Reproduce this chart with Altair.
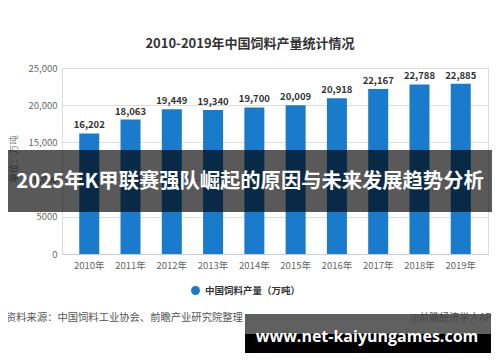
import altair as alt
import pandas as pd

years = ["2010年", "2011年", "2012年", "2013年", "2014年", "2015年", "2016年", "2017年", "2018年", "2019年"]
values = [16202, 18063, 19449, 19340, 19700, 20009, 20918, 22167, 22788, 22885]
series_name = "中国饲料产量（万吨）"
y_ticks = [0, 5000, 10000, 15000, 20000, 25000]

df = pd.DataFrame({"year": years, "value": values, "series": [series_name] * len(years)})
one = pd.DataFrame({"k": [0]})

FONT = "Noto Sans CJK SC"
BLUE = "#1a7acb"

x_enc = alt.X("year:N", sort=years, title=None,
              scale=alt.Scale(paddingInner=0.52, paddingOuter=0.42),
              axis=alt.Axis(labelAngle=0, labelColor="#666", labelFontSize=9.5, labelFont=FONT,
                            ticks=False, domainColor="#cccccc", labelPadding=6))
y_enc = alt.Y("value:Q", title=None,
              scale=alt.Scale(domain=[0, 25000], nice=False),
              axis=alt.Axis(values=y_ticks, labelColor="#666", labelFontSize=9.5, labelFont=FONT,
                            ticks=False, domain=False, gridColor="#dddddd", labelPadding=5,
                            labelOverlap=False, labelBound=False, labelFlush=False,
                            labelExpr="datum.value == 5000 ? '5000' : format(datum.value, ',')"))

bars = alt.Chart(df).mark_bar(size=20).encode(
    x=x_enc, y=y_enc,
    color=alt.Color("series:N", scale=alt.Scale(range=[BLUE]),
                    legend=alt.Legend(orient="none", legendX=128, legendY=217, title=None,
                                      symbolType="circle", symbolSize=80, labelFontSize=9.5,
                                      labelFontWeight="bold", labelColor="#333", labelFont=FONT)),
)

labels = alt.Chart(df).mark_text(dy=-8, fontSize=9.5, fontWeight="bold", color="#333", font=FONT).encode(
    x=x_enc, y=y_enc, text=alt.Text("value:Q", format=",")
)

def txt(s, x, y, **kw):
    return alt.Chart(one).mark_text(**kw).encode(x=alt.value(x), y=alt.value(y), text=alt.value(s))

def box(x1, x2, y1, y2, **kw):
    return alt.Chart(one).mark_rect(**kw).encode(x=alt.value(x1), x2=alt.value(x2), y=alt.value(y1), y2=alt.value(y2))

ytitle = txt("单位：万吨", -48, 91, fontSize=9.5, color="#888", font=FONT, angle=270)
title = txt("2010-2019年中国饲料产量统计情况", 188, -24, fontSize=13, fontWeight="bold", color="#333", font=FONT)
source = txt("资料来源：中国饲料工业协会、前瞻产业研究院整理", -56, 250, fontSize=10.3, color="#555", font=FONT, align="left")
app = txt("@前瞻经济学人APP", 436, 250, fontSize=10, color="#555", font=FONT, align="right")

band = box(-55, 432, 82, 144, color="#000", opacity=0.65)
band_text = txt("2025年K甲联赛强队崛起的原因与未来发展趋势分析", 188, 114, fontSize=20.3, fontWeight="bold", color="white", font=FONT)

banner_top = box(183, 429, 246, 266, color="#444", opacity=0.85)
banner_bot = box(183, 429, 266, 285, color="#000")
banner_text = txt("www.net-kaiyungames.com", 305, 269, fontSize=16, fontWeight="bold", color="white", font="Open Sans")

chart = alt.layer(bars, labels, ytitle, title, source, app, band, band_text, banner_top, banner_bot, banner_text).properties(
    width=426, height=186,
    autosize=alt.AutoSizeParams(type="none"),
    padding={"left": 54, "top": 60, "right": 4, "bottom": 100},
).configure_view(stroke=None).configure(background="white")

chart.save("out.html", embed_options={"renderer": "svg", "actions": False})
